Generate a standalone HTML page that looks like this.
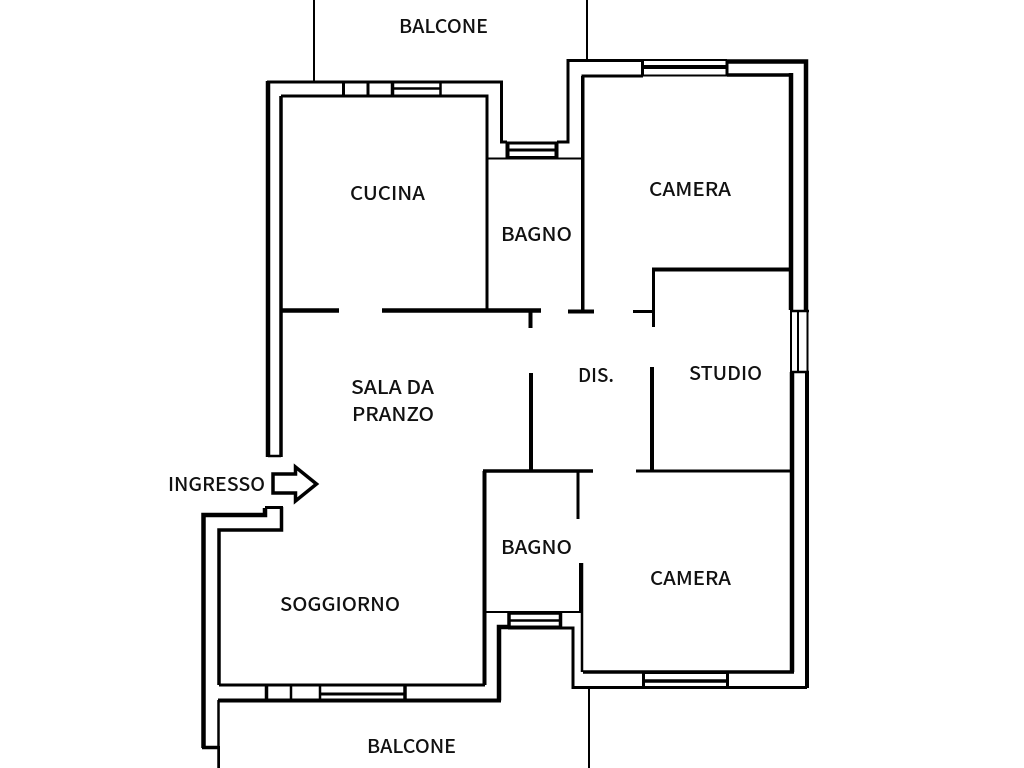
<!DOCTYPE html>
<html>
<head>
<meta charset="utf-8">
<style>
html,body{margin:0;padding:0;background:#fff;width:1024px;height:768px;overflow:hidden}
svg{display:block}
text{font-family:"Noto Sans CJK SC","Liberation Sans",sans-serif;font-size:19px;font-weight:500;fill:#111}
</style>
</head>
<body>
<svg width="1024" height="768" viewBox="0 0 1024 768" xmlns="http://www.w3.org/2000/svg">
<rect width="1024" height="768" fill="#fff"/>
<g fill="none" stroke="#000" stroke-linecap="butt" stroke-linejoin="miter">
<!-- balcony lines -->
<path stroke-width="2" d="M314 0V81M587 0V60M589 688V768M219 746V768"/>
<!-- top-left outer -->
<path stroke-width="3" d="M267 82H501.5V142H507"/>
<path stroke-width="4.5" d="M268 81V457"/>
<path stroke-width="3.5" d="M281 457V96"/>
<path stroke-width="2.5" d="M268 456H281"/>
<path stroke-width="3" d="M281 96H487V310"/>
<!-- kitchen window -->
<path stroke-width="3" d="M343.500 82V96M368 82V96"/>
<path stroke-width="3.500" d="M392.500 82V96"/>
<path stroke-width="2.500" d="M392 88.500H440M440.500 82V96"/>
<!-- upper bath -->
<path stroke-width="2" d="M487 158.500H582"/>
<path stroke-width="3" d="M507 143H557M507 150H557M507 157.500H557"/>
<path stroke-width="4" d="M507.500 142V158M556.500 142V158"/>
<path stroke-width="3" d="M557 142H568V60.500H642"/>
<path stroke-width="3" d="M583 310V76H643"/>
<!-- top right window -->
<path stroke-width="2" d="M642 60H727M642 75.500H727"/>
<path stroke-width="4" d="M642 67H727"/>
<path stroke-width="3" d="M642.500 60V76M727 60V76"/>
<path stroke-width="4.500" d="M727 61.500H806V310"/>
<path stroke-width="3.500" d="M727 75H791"/>
<path stroke-width="4.500" d="M791 73V310"/>
<!-- right window -->
<path stroke-width="2" d="M791 310V372M798 310V372M807.500 310V372"/>
<path stroke-width="2.500" d="M790 311H809M790 372H809"/>
<!-- right wall lower -->
<path stroke-width="4" d="M807 372V688"/>
<path stroke-width="4.500" d="M792 372V672"/>
<path stroke-width="3" d="M807 687.500H573V628H562"/>
<path stroke-width="3.500" d="M794 672H583"/>
<path stroke-width="2.500" d="M582 672V563"/>
<!-- bottom right window -->
<path stroke-width="2" d="M643 673H728"/>
<path stroke-width="3.500" d="M643 681H728"/>
<path stroke-width="3" d="M643.500 672V688M727.500 672V688"/>
<!-- lower bath window -->
<path stroke-width="2" d="M486 612H582"/>
<path stroke-width="2.500" d="M508 613.500H561M508 620.500H561"/>
<path stroke-width="3.500" d="M509 612V629M560.500 612V629"/>
<path stroke-width="4" d="M508 627.500H562"/>
<path stroke-width="4.500" d="M499 700.500V627H509"/>
<!-- lower bath walls -->
<path stroke-width="4" d="M484.500 685V471"/>
<path stroke-width="3.500" d="M483 471H593"/>
<path stroke-width="3" d="M636 471H790"/>
<path stroke-width="3" d="M578 471V519M580.500 563V612"/>
<!-- dis. -->
<path stroke-width="4" d="M530.500 311V328M531 373V470M652 367V470"/>
<path stroke-width="3" d="M653.500 269V327"/>
<path stroke-width="4.500" d="M282 310.500H339M382 310.500H541"/>
<path stroke-width="4" d="M568 311.500H594"/>
<path stroke-width="3" d="M633 311.500H653"/>
<path stroke-width="4" d="M652 269.500H790"/>
<path stroke-width="3" d="M582.500 76V311"/>
<!-- bottom wall -->
<path stroke-width="3" d="M219 685H485"/>
<path stroke-width="4" d="M218 700.500H501"/>
<path stroke-width="3.500" d="M266.500 686V700M405 686V700"/>
<path stroke-width="2.500" d="M291 686V700M320 686V700"/>
<path stroke-width="3" d="M320 694H405"/>
<!-- left lower wall -->
<path stroke-width="4.500" d="M203.500 748V515H265V508"/>
<path stroke-width="3" d="M265 507.500H283"/>
<path stroke-width="3.500" d="M281.500 507V530H219V685"/>
<path stroke-width="2.500" d="M218.500 700V768"/>
<path stroke-width="3.500" d="M202 747.500H219"/>
<!-- arrow -->
<path stroke-width="3.500" stroke-linejoin="miter" d="M273 474H295.500V467L316.500 484L295.500 501V493H273Z"/>
</g>
<text x="399" y="33" textLength="89" lengthAdjust="spacingAndGlyphs">BALCONE</text>
<text x="350" y="200" textLength="75" lengthAdjust="spacingAndGlyphs">CUCINA</text>
<text x="649" y="196" textLength="82" lengthAdjust="spacingAndGlyphs">CAMERA</text>
<text x="501" y="241" textLength="71" lengthAdjust="spacingAndGlyphs">BAGNO</text>
<text x="689" y="380" textLength="73" lengthAdjust="spacingAndGlyphs">STUDIO</text>
<text x="578" y="382" textLength="36" lengthAdjust="spacingAndGlyphs">DIS.</text>
<text x="351" y="394" textLength="83" lengthAdjust="spacingAndGlyphs">SALA DA</text>
<text x="352" y="421" textLength="82" lengthAdjust="spacingAndGlyphs">PRANZO</text>
<text x="168" y="491" textLength="97" lengthAdjust="spacingAndGlyphs">INGRESSO</text>
<text x="501" y="554" textLength="71" lengthAdjust="spacingAndGlyphs">BAGNO</text>
<text x="650" y="585" textLength="81" lengthAdjust="spacingAndGlyphs">CAMERA</text>
<text x="280" y="611" textLength="120" lengthAdjust="spacingAndGlyphs">SOGGIORNO</text>
<text x="367" y="753" textLength="89" lengthAdjust="spacingAndGlyphs">BALCONE</text>
</svg>
</body>
</html>
